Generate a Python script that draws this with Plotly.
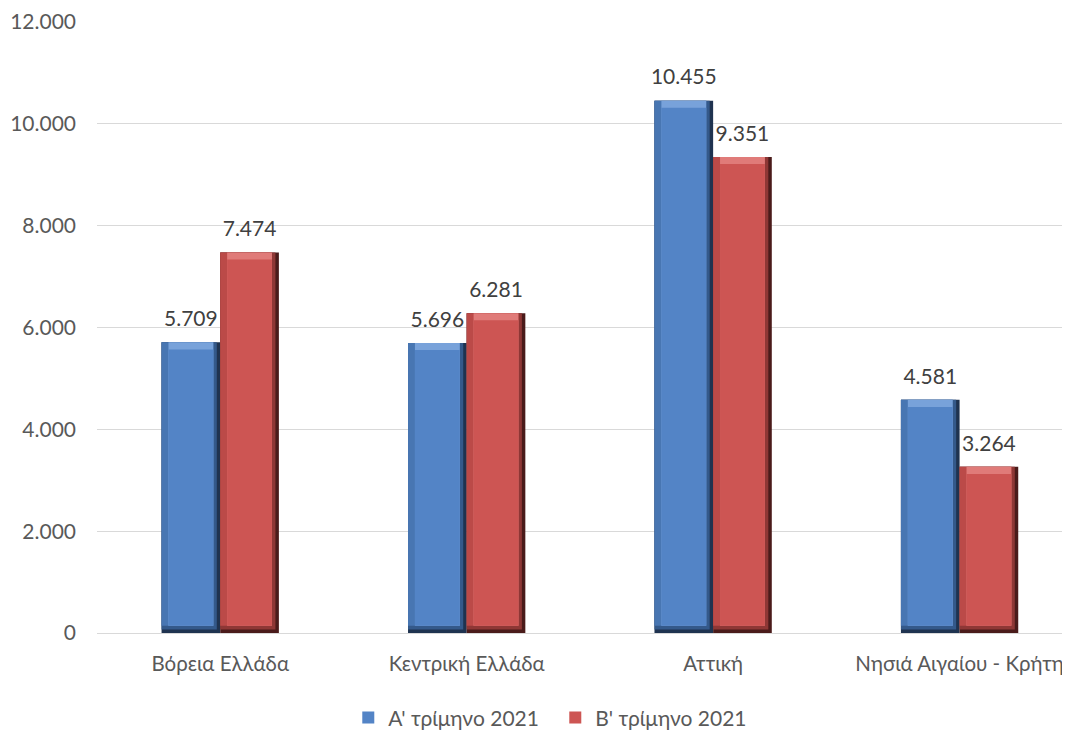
import plotly.graph_objects as go

categories = ["Βόρεια Ελλάδα", "Κεντρική Ελλάδα", "Αττική", "Νησιά Αιγαίου - Κρήτη"]
series_a_name = "Α' τρίμηνο 2021"
series_b_name = "Β' τρίμηνο 2021"
series_a = [5709, 5696, 10455, 4581]
series_b = [7474, 6281, 9351, 3264]
y_ticks = [0, 2000, 4000, 6000, 8000, 10000, 12000]

FONT = "Lato, 'Open Sans', sans-serif"
TXT = "#595959"

BW = 0.238          # bar width in category units
IX = 0.028          # bevel inset in x (category units)
IY = 140            # bevel inset in y (value units)

styles = {
    "a": dict(dark="#1f3350", mid="#34598a", side="#4876b2", light="#78a2da",
              face="#5384c6", offset=-BW),
    "b": dict(dark="#4a1b1a", mid="#8e3735", side="#bb4a48", light="#e07b79",
              face="#cd5553", offset=0.0),
}

xs = list(range(len(categories)))
fig = go.Figure()

def fmt(v):
    return f"{v:,}".replace(",", ".")

def layer(vals, st, color, x_in_left, x_in_right, y_in_bottom, y_in_top, name=None):
    n = len(vals)
    fig.add_trace(go.Bar(
        x=xs, y=[v - y_in_bottom - y_in_top for v in vals], base=[y_in_bottom] * n,
        width=BW - x_in_left - x_in_right, offset=st["offset"] + x_in_left,
        marker=dict(color=color, line=dict(width=0)),
        name=name, showlegend=name is not None, hoverinfo="skip",
    ))

def add_series(vals, name, st):
    layer(vals, st, st["dark"], 0, 0, 0, 0)
    layer(vals, st, st["mid"], 0, IX * 0.5, IY * 0.5, 0)
    layer(vals, st, st["side"], 0, IX, IY, 0)
    layer(vals, st, st["light"], IX, IX, IY, 0)
    layer(vals, st, st["face"], IX, IX, IY, IY, name=name)
    # data labels
    fig.add_trace(go.Scatter(
        x=[x + st["offset"] + BW / 2 for x in xs], y=vals,
        mode="markers+text", text=[fmt(v) for v in vals],
        textposition="top center",
        textfont=dict(family=FONT, size=21, color="#404040"),
        marker=dict(size=16, opacity=0),
        cliponaxis=False, showlegend=False, hoverinfo="skip",
    ))

add_series(series_a, series_a_name, styles["a"])
add_series(series_b, series_b_name, styles["b"])

fig.update_layout(
    width=1062, height=723,
    barmode="overlay",
    separators=",.",
    paper_bgcolor="white", plot_bgcolor="white",
    margin=dict(l=89, r=0, t=14, b=98, autoexpand=False),
    font=dict(family=FONT, size=21, color=TXT),
    xaxis=dict(
        range=[-0.5, 3.448], showgrid=False, zeroline=False, showline=False,
        tickvals=xs, ticktext=categories, automargin=False,
        ticks="", ticklabelstandoff=16, ticklabeloverflow="allow",
        tickfont=dict(family=FONT, size=20.5, color=TXT),
    ),
    yaxis=dict(
        range=[0, 12000], tickvals=y_ticks, tickformat=",d", automargin=False,
        showgrid=True, gridcolor="#d9d9d9", gridwidth=1.3,
        zeroline=True, zerolinecolor="#d9d9d9", zerolinewidth=1.3,
        ticks="", ticklabelstandoff=20, ticklabeloverflow="allow",
        tickfont=dict(family=FONT, size=21, color=TXT),
    ),
    legend=dict(
        orientation="h", x=0.471, xanchor="center", y=-0.139, yanchor="middle",
        font=dict(family=FONT, size=21, color=TXT), itemwidth=30,
        entrywidth=162, entrywidthmode="pixels",
    ),
    showlegend=True,
)

fig.write_html("out.html")
